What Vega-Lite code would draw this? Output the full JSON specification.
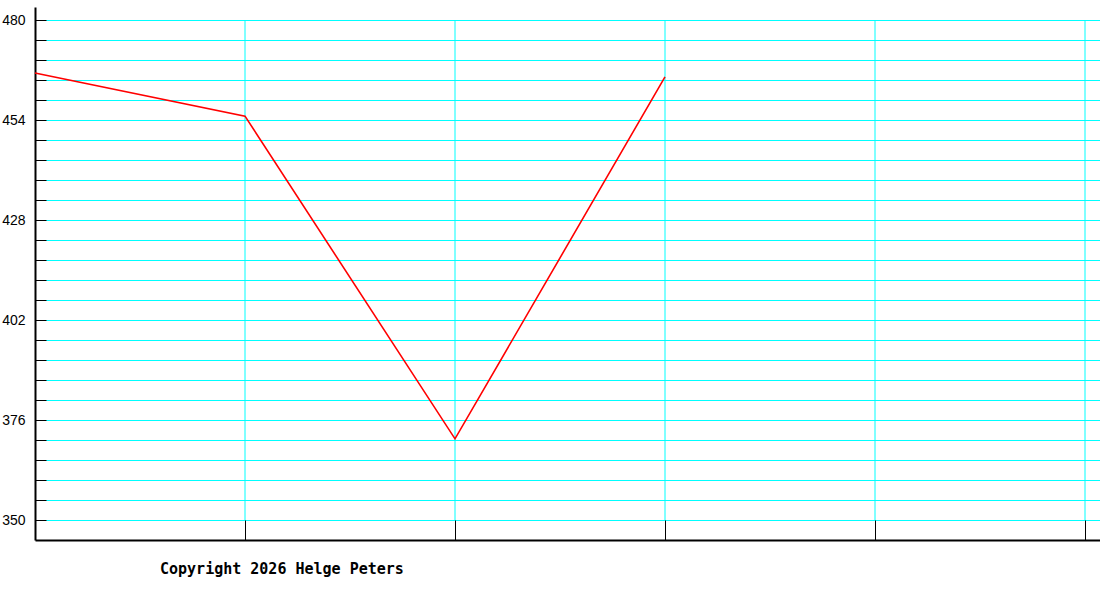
{
  "$schema": "https://vega.github.io/schema/vega-lite/v6.json",
  "width": 1065,
  "height": 533,
  "autosize": "none",
  "padding": {"left": 35, "top": 7, "right": 0, "bottom": 60},
  "background": "white",
  "config": {
    "view": {"stroke": null}
  },
  "title": {
    "text": "Copyright 2026 Helge Peters",
    "orient": "bottom",
    "anchor": "start",
    "frame": "group",
    "dx": 125,
    "offset": 33,
    "baseline": "alphabetic",
    "font": "DejaVu Sans Mono",
    "fontSize": 15,
    "fontWeight": "bold",
    "color": "black"
  },
  "layer": [
    {
      "data": {"values": [{"x": 1}, {"x": 2}, {"x": 3}, {"x": 4}, {"x": 5}]},
      "mark": {"type": "rule", "color": "#00FFFF", "strokeWidth": 1},
      "encoding": {
        "x": {"field": "x", "type": "quantitative", "scale": {"domain": [0, 5.0714], "nice": false, "zero": false}},
        "y": {"datum": 350, "type": "quantitative", "scale": {"domain": [344.8, 483.38], "nice": false, "zero": false}},
        "y2": {"datum": 480}
      }
    },
    {
      "data": {
        "values": [
          {"point": 0, "value": 466.2},
          {"point": 1, "value": 455.0},
          {"point": 2, "value": 371.1},
          {"point": 3, "value": 465.2}
        ]
      },
      "mark": {"type": "line", "color": "#FF0000", "strokeWidth": 1.6},
      "encoding": {
        "x": {
          "field": "point",
          "type": "quantitative",
          "scale": {"domain": [0, 5.0714], "nice": false, "zero": false},
          "axis": {
            "title": null,
            "values": [1, 2, 3, 4, 5],
            "tickCount": 10,
            "labels": false,
            "grid": false,
            "domainColor": "black",
            "domainWidth": 2,
            "tickColor": "black",
            "tickSize": -20,
            "tickWidth": 1
          }
        },
        "y": {
          "field": "value",
          "type": "quantitative",
          "scale": {"domain": [344.8, 483.38], "nice": false, "zero": false},
          "axis": {
            "title": null,
            "values": [350, 355.2, 360.4, 365.6, 370.8, 376, 381.2, 386.4, 391.6, 396.8, 402, 407.2, 412.4, 417.6, 422.8, 428, 433.2, 438.4, 443.6, 448.8, 454, 459.2, 464.4, 469.6, 474.8, 480],
            "tickCount": 40,
            "labelOverlap": false,
            "labelExpr": "abs((datum.value - 350) / 26 - round((datum.value - 350) / 26)) < 0.01 ? format(datum.value, 'd') : ''",
            "labelFont": "Liberation Sans",
            "labelFontSize": 14,
            "labelColor": "black",
            "labelPadding": 21,
            "grid": true,
            "gridColor": "#00FFFF",
            "gridWidth": 1,
            "gridOpacity": 1,
            "domainColor": "black",
            "domainWidth": 2,
            "tickColor": "black",
            "tickSize": -11,
            "tickWidth": 1
          }
        }
      }
    }
  ]
}
